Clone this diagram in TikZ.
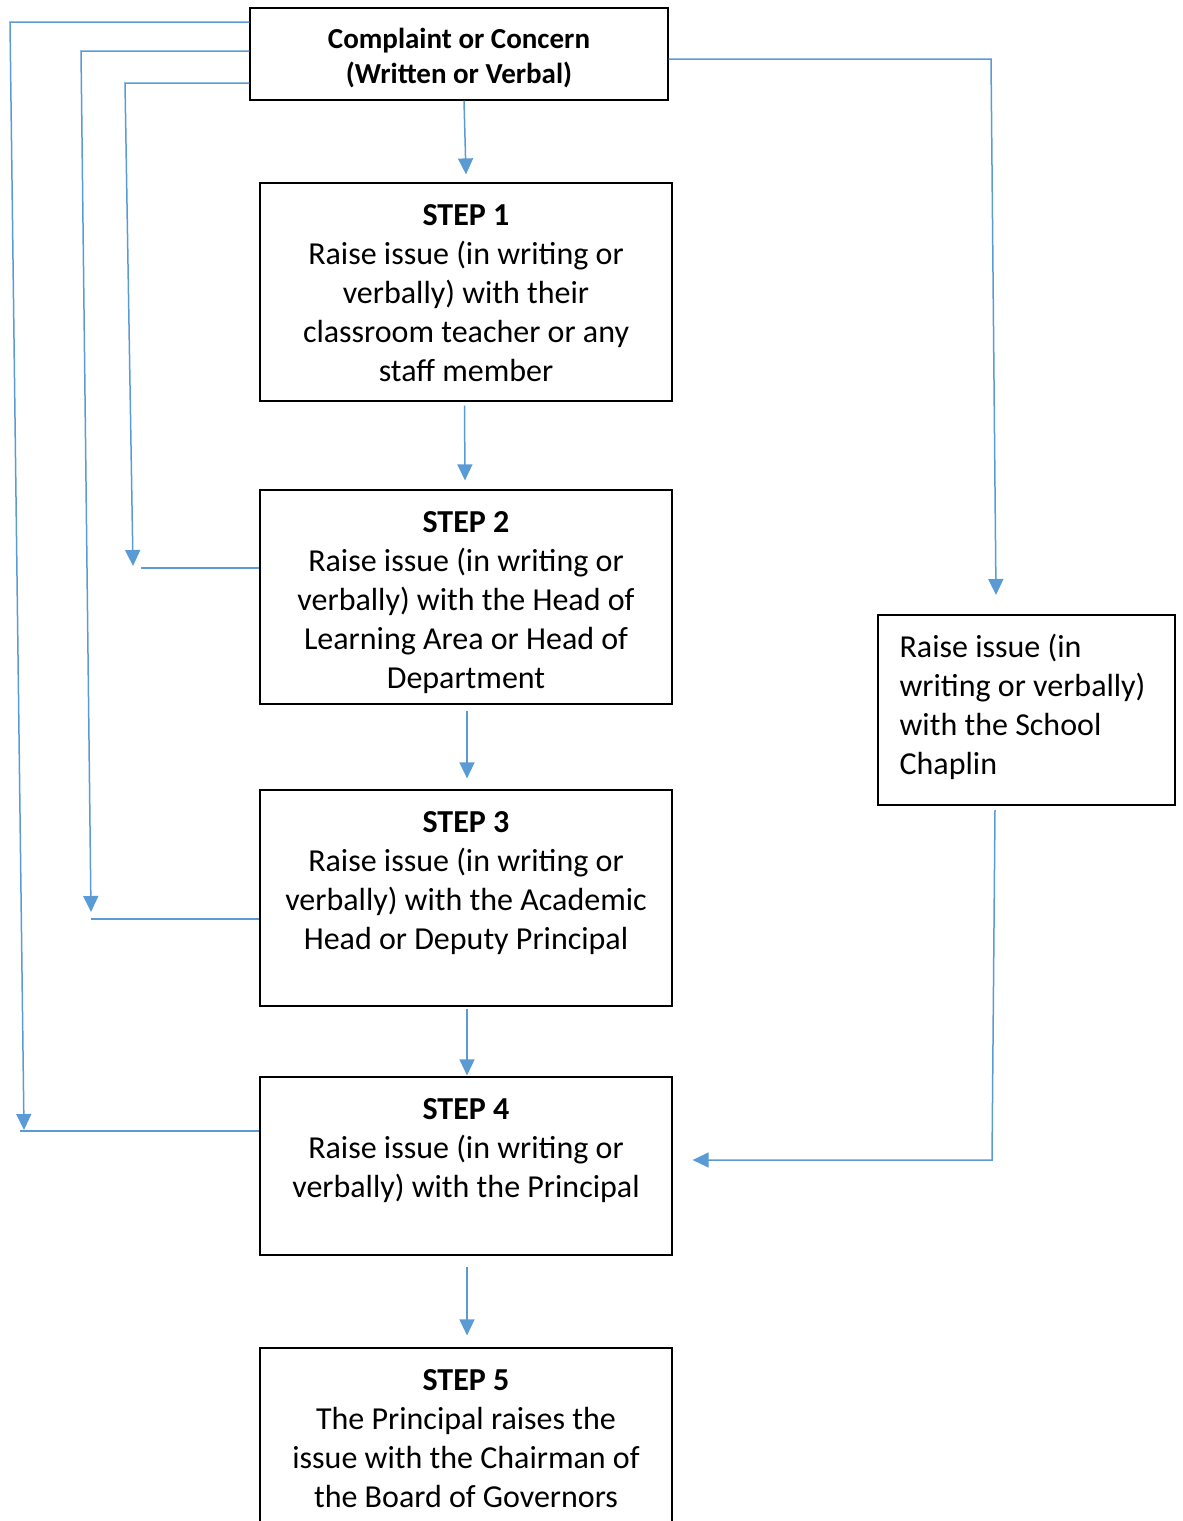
\documentclass[tikz,border=0pt]{standalone}
\usepackage{fontspec}
\setmainfont{Carlito}
\usetikzlibrary{positioning,arrows.meta}
\definecolor{flowBlue}{RGB}{91,155,213}
\tikzstyle{flowchart} = [x = 1pt, y = -1pt]
\tikzstyle{boxStyle} = [draw=black, line width=1.2pt, rectangle, inner sep=0pt]
\tikzstyle{stepText} = [align=center, inner sep=0pt, font=\fontsize{32}{39}\selectfont]
\tikzstyle{sideText} = [align=left, inner sep=0pt, font=\fontsize{32}{39}\selectfont]
\tikzstyle{titleText} = [align=center, inner sep=0pt, font=\bfseries\fontsize{29}{35}\selectfont]
\tikzstyle{flowLine} = [color=flowBlue, line width=1.5pt]
\tikzstyle{flowArrow} = [flowLine, -{Triangle[width=15pt,length=16pt]}]
\newcommand{\stepBox}[3]{\node [boxStyle, minimum width=412, minimum height=#3] (#1) at (466,#2) {};}

\begin{document}
\begin{tikzpicture}[flowchart]
  \clip (0,0) rectangle (1183,1521);
  % boxes
  \node [boxStyle, minimum width=418, minimum height=92] (complaintBox) at (459,54) {};
  \stepBox{stepOne}{292}{218}
  \stepBox{stepTwo}{597}{214}
  \stepBox{stepThree}{898}{216}
  \stepBox{stepFour}{1166}{178}
  \stepBox{stepFive}{1460}{224}
  \node [boxStyle, minimum width=297, minimum height=190] (chaplinBox) at (1026.5,710) {};

  % texts
  \node [titleText, below=21pt of complaintBox.north] (complaintText) {Complaint or Concern\\(Written or Verbal)};
  \node [stepText, below=22pt of stepOne.north] (stepOneText) {\textbf{STEP 1}\\Raise issue (in writing or\\verbally) with their\\classroom teacher or any\\staff member};
  \node [stepText, below=22pt of stepTwo.north] (stepTwoText) {\textbf{STEP 2}\\Raise issue (in writing or\\verbally) with the Head of\\Learning Area or Head of\\Department};
  \node [stepText, below=22pt of stepThree.north] (stepThreeText) {\textbf{STEP 3}\\Raise issue (in writing or\\verbally) with the Academic\\Head or Deputy Principal};
  \node [stepText, below=22pt of stepFour.north] (stepFourText) {\textbf{STEP 4}\\Raise issue (in writing or\\verbally) with the Principal};
  \node [stepText, below=22pt of stepFive.north] (stepFiveText) {\textbf{STEP 5}\\The Principal raises the\\issue with the Chairman of\\the Board of Governors};
  \node [sideText, anchor=north west] (chaplinText) at ([xshift=22pt, yshift=-19pt]chaplinBox.north west) {Raise issue (in\\writing or verbally)\\with the School\\Chaplin};

  % main steps
  \draw [flowArrow] ([xshift=5pt]complaintBox.south) -- ([yshift=8pt]stepOne.north);
  \draw [flowArrow] ([xshift=-1.5pt, yshift=-4pt]stepOne.south) -- ([xshift=-1pt, yshift=9pt]stepTwo.north);
  \draw [flowArrow] ([xshift=1pt, yshift=-6pt]stepTwo.south) -- ([xshift=1pt, yshift=11pt]stepThree.north);
  \draw [flowArrow] ([xshift=1pt, yshift=-2pt]stepThree.south) -- ([xshift=1pt, yshift=1pt]stepFour.north);
  \draw [flowArrow] ([xshift=1pt, yshift=-11pt]stepFour.south) -- ([xshift=1pt, yshift=12pt]stepFive.north);

  % skipping routes on the left
  \coordinate (outerCorner) at (10,22);
  \coordinate (outerTip) at (24,1130);
  \coordinate (outerFoot) at (20,1131);
  \draw [flowArrow] (complaintBox.west |- outerCorner) -- (outerCorner) -- (outerTip);
  \draw [flowLine] (outerFoot) -- (stepFour.west |- outerFoot);

  \coordinate (middleCorner) at (81,51);
  \coordinate (middleTip) at (91,912);
  \coordinate (middleFoot) at (91,919);
  \draw [flowArrow] (complaintBox.west |- middleCorner) -- (middleCorner) -- (middleTip);
  \draw [flowLine] (middleFoot) -- (stepThree.west |- middleFoot);

  \coordinate (innerCorner) at (125,83);
  \coordinate (innerTip) at (133,566);
  \coordinate (innerFoot) at (141,568);
  \draw [flowArrow] (complaintBox.west |- innerCorner) -- (innerCorner) -- (innerTip);
  \draw [flowLine] (innerFoot) -- (stepTwo.west |- innerFoot);

  % chaplin route on the right
  \coordinate (chaplinCorner) at (991,59);
  \coordinate (chaplinTip) at (996,595);
  \draw [flowArrow] (complaintBox.east |- chaplinCorner) -- (chaplinCorner) -- (chaplinTip);
  \coordinate (chaplinFoot) at (995,810);
  \coordinate (returnCorner) at (992,1160);
  \draw [flowArrow] (chaplinFoot) -- (returnCorner) -- ([xshift=20pt]stepFour.east |- returnCorner);
\end{tikzpicture}
\end{document}
